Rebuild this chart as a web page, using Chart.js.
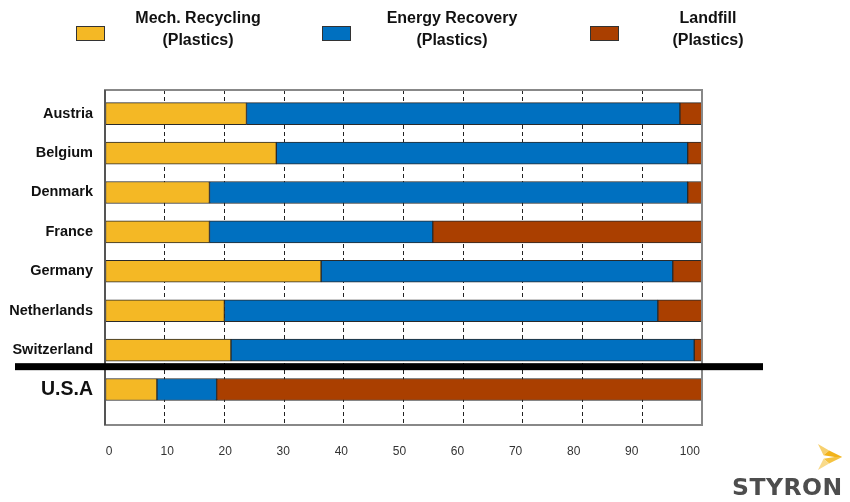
<!DOCTYPE html>
<html>
<head>
  <title>Plastics Recovery by Country</title>
  <script src="https://cdn.jsdelivr.net/npm/chart.js"></script>
  <style>
    body {
      margin: 0;
      background: white;
      font-family: Arial, "Liberation Sans", sans-serif;
    }
    .wrap {
      position: relative;
      width: 850px;
      height: 502px;
    }
    .legend-box {
      position: absolute;
      top: 26px;
      width: 27px;
      height: 13px;
      border: 1px solid #333;
    }
    .legend-text {
      position: absolute;
      top: 7px;
      width: 200px;
      text-align: center;
      font-weight: bold;
      font-size: 16px;
      line-height: 22px;
      color: #111;
    }
    .logo {
      position: absolute;
      left: 732px;
      top: 473px;
      font-family: "DejaVu Sans", sans-serif;
      font-weight: bold;
      font-size: 23.5px;
      letter-spacing: 0.5px;
      color: #4d4d4d;
    }
    .logo-icon {
      position: absolute;
      left: 816px;
      top: 443px;
    }
  </style>
</head>
<body>
  <div class="wrap">
    <canvas id="chart"></canvas>

    <div class="legend-box" style="left:76px;background:#F4B825"></div>
    <div class="legend-text" style="left:98px">Mech. Recycling<br>(Plastics)</div>
    <div class="legend-box" style="left:322px;background:#0070C0"></div>
    <div class="legend-text" style="left:352px">Energy Recovery<br>(Plastics)</div>
    <div class="legend-box" style="left:590px;background:#AA3F00"></div>
    <div class="legend-text" style="left:608px">Landfill<br>(Plastics)</div>

    <svg class="logo-icon" width="30" height="28" viewBox="0 0 32 30">
      <polygon points="2,1 14,8 8,13" fill="#F7D06E"/>
      <polygon points="14,8 28,15 20,15 8,13" fill="#F2B31B"/>
      <polygon points="8,17 20,15 28,15 14,22" fill="#F5C342"/>
      <polygon points="8,17 14,22 2,29" fill="#F9DA8A"/>
    </svg>
    <div class="logo">STYRON</div>
  </div>

  <script>
    const categories = ["Austria", "Belgium", "Denmark", "France", "Germany", "Netherlands", "Switzerland", "U.S.A"];
    const mechRecycling = [23.7, 28.7, 17.5, 17.5, 36.2, 20.0, 21.1, 8.7];
    const energyRecovery = [72.6, 68.9, 80.1, 37.4, 58.9, 72.6, 77.6, 10.0];
    const landfill = [3.7, 2.4, 2.4, 45.1, 4.9, 7.4, 1.3, 81.3];
    const xMin = 0, xMax = 100, xStep = 10;

    const toPoints = values => values.map((v, i) => ({ x: v, y: i }));

    function makeSet(label, values, color) {
      return {
        label: label,
        data: toPoints(values),
        backgroundColor: color,
        borderColor: "#2a2a2a",
        borderWidth: 1,
        borderSkipped: false,
        barThickness: 22,
        grouped: false
      };
    }

    // frame round the plot + the thick black line above the U.S.A row
    const framePlugin = {
      id: "frame",
      afterDatasetsDraw(chart) {
        const { ctx, chartArea: a, scales } = chart;
        ctx.save();
        ctx.strokeStyle = "#888";
        ctx.lineWidth = 2;
        ctx.strokeRect(a.left, a.top, a.right - a.left, a.bottom - a.top);
        ctx.strokeStyle = "#555";
        ctx.beginPath();
        ctx.moveTo(a.left, a.top);
        ctx.lineTo(a.left, a.bottom);
        ctx.stroke();

        const y = scales.y.getPixelForValue(categories.length - 1.58);
        ctx.fillStyle = "#000";
        ctx.fillRect(15, y - 3.5, 748, 7);
        ctx.restore();
      }
    };

    const tickFont = { family: "Arial, 'Liberation Sans'", size: 12 };

    new Chart(document.getElementById("chart").getContext("2d"), {
      type: "bar",
      data: {
        datasets: [
          makeSet("Mech. Recycling (Plastics)", mechRecycling, "#F4B825"),
          makeSet("Energy Recovery (Plastics)", energyRecovery, "#0070C0"),
          makeSet("Landfill (Plastics)", landfill, "#AA3F00")
        ]
      },
      options: {
        indexAxis: "y",
        responsive: true,
        maintainAspectRatio: false,
        animation: false,
        layout: { padding: { top: 90, right: 148, bottom: 0, left: 0 } },
        plugins: {
          legend: { display: false },
          tooltip: { enabled: false }
        },
        scales: {
          x: {
            type: "linear",
            stacked: true,
            min: xMin,
            max: xMax,
            ticks: { stepSize: xStep, display: false },
            grid: { color: "#222", lineWidth: 1, drawTicks: false },
            border: { display: false, dash: [4, 3] },
            afterFit: scale => { scale.height = 0; }
          },
          // labels only: in the picture they sit a little left of the grid
          xLabels: {
            type: "linear",
            position: "bottom",
            min: xMin - 0.7,
            max: xMax + 2.1,
            afterBuildTicks: scale => {
              const t = [];
              for (let v = xMin; v <= xMax; v += xStep) t.push({ value: v });
              scale.ticks = t;
            },
            ticks: { padding: 19, color: "#333", font: tickFont },
            grid: { display: false, drawTicks: false },
            border: { display: false },
            afterFit: scale => { scale.height = 77; }
          },
          y: {
            type: "linear",
            reverse: true,
            offset: false,
            min: -0.6,
            max: categories.length - 0.1,
            afterBuildTicks: scale => {
              scale.ticks = categories.map((c, i) => ({ value: i }));
            },
            ticks: {
              autoSkip: false,
              padding: 12,
              color: "#111",
              callback: value => categories[value],
              font: ctx => categories[ctx.index] === "U.S.A"
                ? { family: "Arial, 'Liberation Sans'", size: 19.5, weight: "bold" }
                : { family: "Arial, 'Liberation Sans'", size: 14.5, weight: "bold" }
            },
            grid: { display: false, drawTicks: false },
            border: { display: false },
            afterFit: scale => { scale.width = 105; }
          }
        }
      },
      plugins: [framePlugin]
    });
  </script>
</body>
</html>
